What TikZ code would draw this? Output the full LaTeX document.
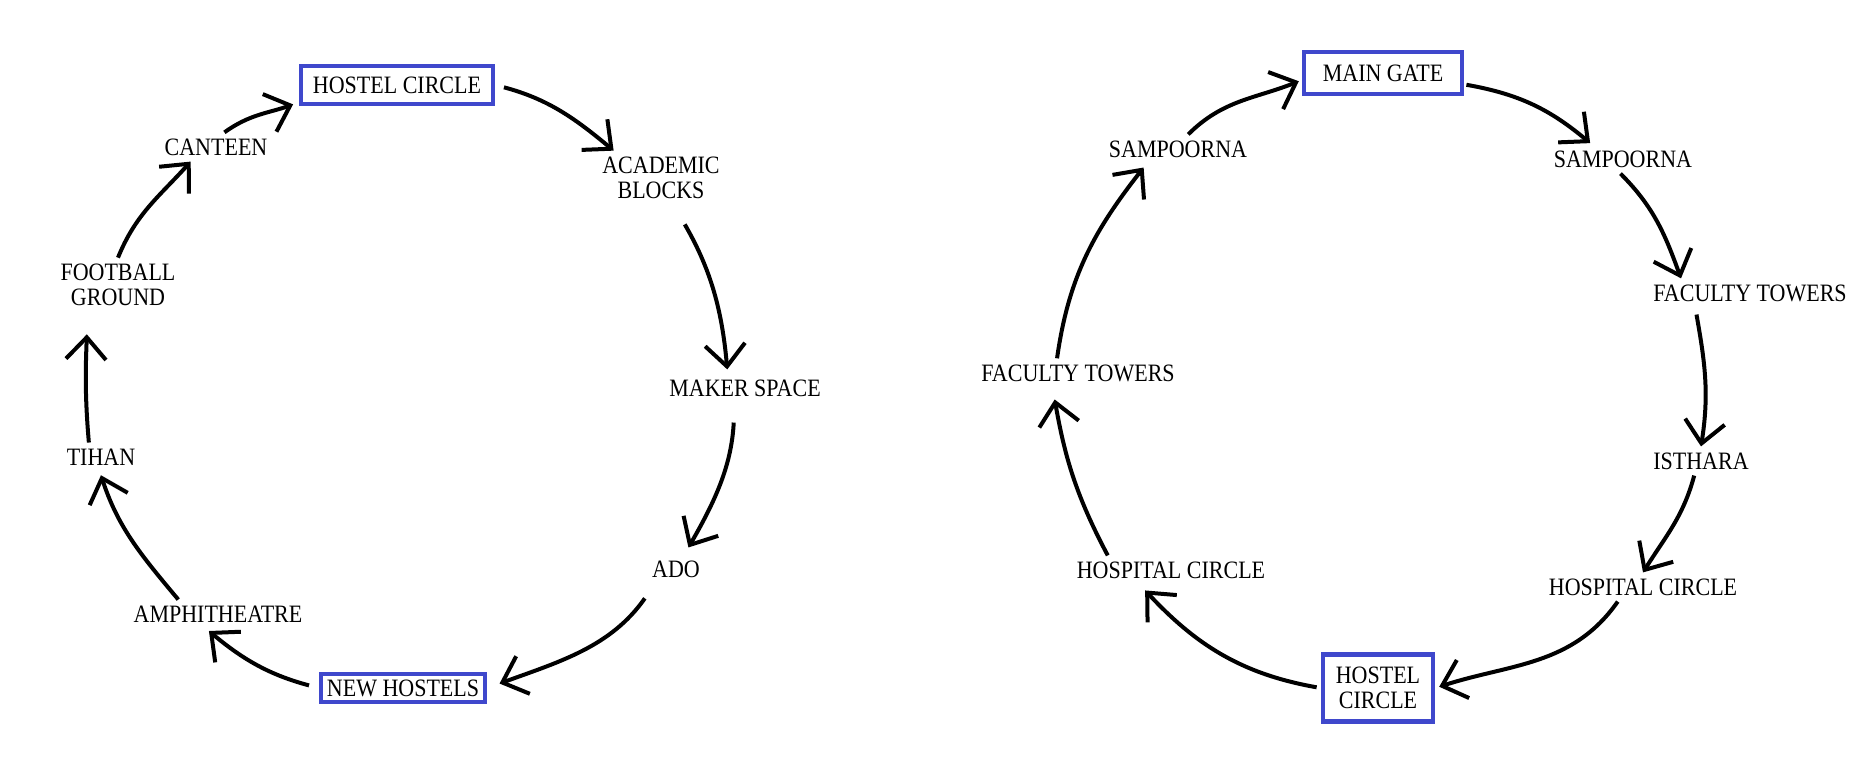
\documentclass[tikz,border=0pt]{standalone}
\usepackage{fontspec}
\setmainfont{Liberation Serif}[FakeStretch=0.88]
\usetikzlibrary{arrows.meta}
\definecolor{paintblue}{RGB}{63,72,204}
\begin{document}
\begin{tikzpicture}[x=1pt,y=1pt,
  stop/.style={inner sep=6pt,align=center,font=\fontsize{25}{25.5}\selectfont},
  hub/.style={stop,draw=paintblue,line width=4.5pt,inner xsep=12pt,inner ysep=10.5pt},
  arr/.style={line width=4pt,-{Straight Barb[length=22pt,width=40pt]}}]
\useasboundingbox (0,0) rectangle (1868,778);
\node[hub] (hostel) at (397,693) {HOSTEL CIRCLE};
\node[hub,inner xsep=6pt,inner ysep=5.5pt] (newhostels) at (403,90) {NEW HOSTELS};
\node[hub,inner xsep=19pt,inner ysep=12.5pt] (gate) at (1383,705) {MAIN GATE};
\node[hub,inner xsep=13pt,inner ysep=12.5pt] (hostelR) at (1378,90) {HOSTEL\\CIRCLE};
\foreach \name/\pos/\txt in {academic/{661,600}/{ACADEMIC\\BLOCKS},maker/{745,390}/{MAKER SPACE},
  ado/{676,209}/{ADO},amphi/{218,164}/{AMPHITHEATRE},tihan/{101,321}/{TIHAN},
  football/{118,493}/{FOOTBALL\\GROUND},canteen/{216,631}/{CANTEEN},
  sampR/{1623,619}/{SAMPOORNA},facR/{1750,485}/{FACULTY TOWERS},isthara/{1701,317}/{ISTHARA},
  hospR/{1643,191}/{HOSPITAL CIRCLE},hospL/{1171,208}/{HOSPITAL CIRCLE},
  facL/{1078,405}/{FACULTY TOWERS},sampL/{1178,629}/{SAMPOORNA}}{
  \node[stop] (\name) at (\pos) {\txt};
}
\foreach \a/\b/\o/\i/\s/\e in {hostel.east/academic.150/-15/140/9pt/0pt,
  academic.-65/maker.140/-60/95/22pt/4pt,maker.-125/ado.60/-93/60/20pt/8pt,
  ado.-145/newhostels.east/-125/20/18pt/13pt,newhostels.west/amphi.-130/165/-40/10pt/4pt,
  amphi.160/tihan.-95/130/-72/0pt/4pt,tihan.130/football.-138/95/-92/0pt/22pt,
  football.north/canteen.-150/68/-132/0pt/0pt,canteen.60/hostel.-170/36/-160/0pt/6pt,
  gate.-8/sampR.155/-10/140/2pt/2pt,sampR.-100/facR.168/-45/110/0pt/0pt,
  facR.-165/isthara.north/-80/81/7pt/0pt,isthara.-115/hospR.north/-105/58/0pt/0pt,
  hospR.-150/hostelR.east/-125/18/0pt/4pt,hostelR.west/hospL.-155/170/-47/4pt/8pt,
  hospL.167/facL.-150/118/-80/0pt/12pt,facL.145/sampL.-155/82/-128/0pt/5pt,
  sampL.55/gate.-175/45/-158/0pt/3pt}{
  \draw[arr,shorten <=\s,shorten >=\e] (\a) to[out=\o,in=\i] (\b);
}
\end{tikzpicture}
\end{document}
